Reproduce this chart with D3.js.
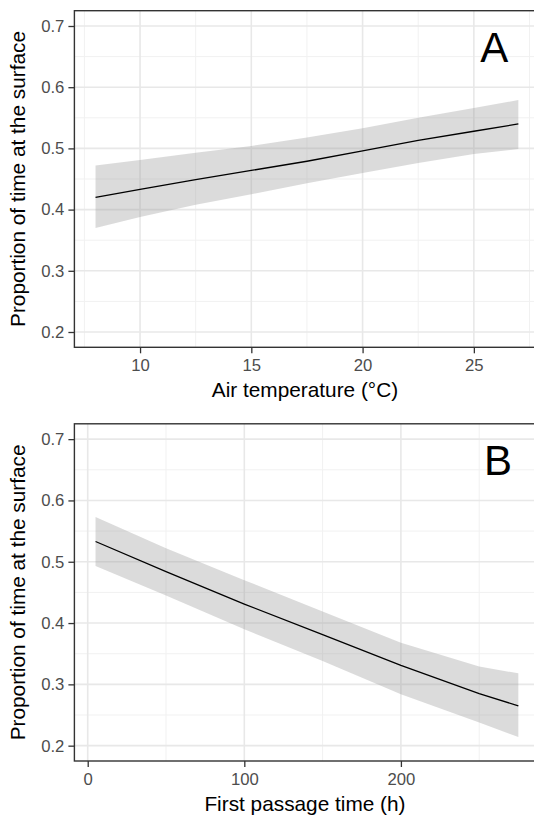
<!DOCTYPE html>
<html>
<head>
<meta charset="utf-8">
<script src="https://cdn.jsdelivr.net/npm/d3@7"></script>
<style>
  html, body { margin: 0; padding: 0; background: #fff; }
  svg { display: block; font-family: "Liberation Sans", Arial, sans-serif; }
</style>
</head>
<body>
<div class="chart"></div>
<script>
// Panel A: air temperature
const tempX = [8, 10, 12.5, 15, 17.5, 20, 22.5, 25, 27];
const tempFit = [0.420, 0.433, 0.449, 0.464, 0.479, 0.496, 0.513, 0.528, 0.540];
const tempUpper = [0.472, 0.481, 0.493, 0.504, 0.518, 0.533, 0.550, 0.566, 0.579];
const tempLower = [0.370, 0.388, 0.408, 0.425, 0.443, 0.460, 0.476, 0.491, 0.499];
const tempTicks = [10, 15, 20, 25];

// Panel B: first passage time
const fptX = [5, 50, 100, 150, 200, 250, 275];
const fptFit = [0.533, 0.484, 0.431, 0.381, 0.331, 0.285, 0.265];
const fptUpper = [0.573, 0.522, 0.470, 0.419, 0.368, 0.329, 0.318];
const fptLower = [0.493, 0.445, 0.390, 0.338, 0.284, 0.238, 0.214];
const fptTicks = [0, 100, 200];

const yTicks = [0.2, 0.3, 0.4, 0.5, 0.6, 0.7];
const yMinor = [0.25, 0.35, 0.45, 0.55, 0.65];

const width = 534;
const height = 819;

const svg = d3.select('.chart')
  .append('svg')
  .attr('width', width)
  .attr('height', height);

const drawPanel = (opts) => {
  const left = 74.4, right = 539.5;
  const xPad = (opts.xDomain[1] - opts.xDomain[0]) * 0.05;

  const x = d3.scaleLinear()
    .domain([opts.xDomain[0] - xPad, opts.xDomain[1] + xPad])
    .range([left, right]);

  const y = d3.scaleLinear()
    .domain([0.175, 0.725])
    .range([opts.bottom, opts.top]);

  const g = svg.append('g');

  // grid
  g.append('g').selectAll('line')
    .data(opts.xMinor)
    .join('line')
    .attr('x1', (d) => x(d)).attr('x2', (d) => x(d))
    .attr('y1', opts.top).attr('y2', opts.bottom)
    .attr('stroke', '#f1f1f1').attr('stroke-width', 1);
  g.append('g').selectAll('line')
    .data(yMinor)
    .join('line')
    .attr('x1', left).attr('x2', right)
    .attr('y1', (d) => y(d)).attr('y2', (d) => y(d))
    .attr('stroke', '#f1f1f1').attr('stroke-width', 1);
  g.append('g').selectAll('line')
    .data(opts.xTicks)
    .join('line')
    .attr('x1', (d) => x(d)).attr('x2', (d) => x(d))
    .attr('y1', opts.top).attr('y2', opts.bottom)
    .attr('stroke', '#e8e8e8').attr('stroke-width', 1.6);
  g.append('g').selectAll('line')
    .data(yTicks)
    .join('line')
    .attr('x1', left).attr('x2', right)
    .attr('y1', (d) => y(d)).attr('y2', (d) => y(d))
    .attr('stroke', '#e8e8e8').attr('stroke-width', 1.6);

  // confidence ribbon
  const rows = opts.xs.map((d, i) => ({ x: d, fit: opts.fit[i], lo: opts.lower[i], hi: opts.upper[i] }));

  g.append('path')
    .datum(rows)
    .attr('fill', '#999')
    .attr('fill-opacity', 0.35)
    .attr('d', d3.area().x((d) => x(d.x)).y0((d) => y(d.lo)).y1((d) => y(d.hi)));

  g.append('path')
    .datum(rows)
    .attr('fill', 'none')
    .attr('stroke', '#000')
    .attr('stroke-width', 1.3)
    .attr('d', d3.line().x((d) => x(d.x)).y((d) => y(d.fit)));

  // border
  g.append('rect')
    .attr('x', left).attr('y', opts.top)
    .attr('width', right - left).attr('height', opts.bottom - opts.top)
    .attr('fill', 'none').attr('stroke', '#333').attr('stroke-width', 1.4);

  // axes
  const xAxis = g.append('g')
    .attr('transform', `translate(0, ${opts.bottom})`)
    .call(d3.axisBottom(x).tickValues(opts.xTicks).tickSize(6).tickPadding(6));
  const yAxis = g.append('g')
    .attr('transform', `translate(${left}, 0)`)
    .call(d3.axisLeft(y).tickValues(yTicks).tickFormat(d3.format('.1f')).tickSize(6).tickPadding(4));

  [xAxis, yAxis].forEach((a) => {
    a.select('.domain').remove();
    a.selectAll('line').attr('stroke', '#333').attr('stroke-width', 1.3);
    a.selectAll('text')
      .attr('fill', '#4d4d4d')
      .attr('font-size', '16.7px')
      .attr('font-family', '"Liberation Sans", Arial, sans-serif');
  });

  // axis titles
  g.append('text')
    .attr('x', (left + right) / 2 - 2)
    .attr('y', opts.bottom + 50)
    .attr('text-anchor', 'middle')
    .attr('font-size', '20.8px')
    .attr('fill', '#000')
    .text(opts.xTitle);

  g.append('text')
    .attr('transform', `translate(25, ${(opts.top + opts.bottom) / 2}) rotate(-90)`)
    .attr('text-anchor', 'middle')
    .attr('font-size', '20.8px')
    .attr('fill', '#000')
    .text('Proportion of time at the surface');

  // panel letter
  g.append('text')
    .attr('x', x(opts.letterX))
    .attr('y', y(0.641))
    .attr('text-anchor', 'middle')
    .attr('font-size', '42px')
    .attr('fill', '#000')
    .text(opts.letter);
};

drawPanel({
  xs: tempX, fit: tempFit, upper: tempUpper, lower: tempLower,
  xDomain: [8, 27], xTicks: tempTicks, xMinor: [7.5, 12.5, 17.5, 22.5, 27.5],
  top: 10.7, bottom: 347.3,
  xTitle: 'Air temperature (°C)', letter: 'A', letterX: 25.92
});

drawPanel({
  xs: fptX, fit: fptFit, upper: fptUpper, lower: fptLower,
  xDomain: [5, 275], xTicks: fptTicks, xMinor: [50, 150, 250],
  top: 423.8, bottom: 761,
  xTitle: 'First passage time (h)', letter: 'B', letterX: 262
});
</script>
</body>
</html>
